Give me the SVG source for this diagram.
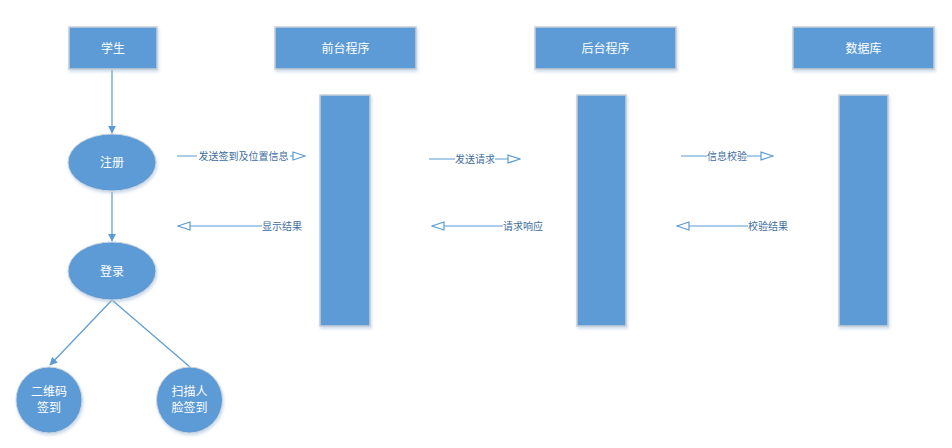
<svg xmlns="http://www.w3.org/2000/svg" width="952" height="448" viewBox="0 0 952 448">
<style>
.box{fill:#5B9BD5;stroke:#C9CED6;stroke-width:1.5}
.shape{fill:#5B9BD5;stroke:#D0D5DC;stroke-width:1}
.t{font-family:"Noto Sans CJK SC","Liberation Sans",sans-serif;font-size:12px;fill:#FFFFFF;text-anchor:middle}
.lbl{font-family:"Noto Sans CJK SC","Liberation Sans",sans-serif;font-size:10px;fill:#3E6E9E;text-anchor:middle}
.ln{stroke:#5B9BD5;stroke-width:1.2;fill:none}
.bg{fill:#FFFFFF}
</style>
<defs>
<filter id="sh" x="-20%" y="-20%" width="140%" height="140%">
<feDropShadow dx="1" dy="2" stdDeviation="1.5" flood-color="#9BB8D8" flood-opacity="0.5"/>
</filter>
<marker id="fa" viewBox="0 0 10 10" refX="9" refY="5" markerWidth="8" markerHeight="8" orient="auto" markerUnits="userSpaceOnUse">
<path d="M0,0 L10,5 L0,10 z" fill="#5B9BD5"/>
</marker>
<marker id="oa" viewBox="0 0 14 10" refX="13" refY="5" markerWidth="14" markerHeight="10" orient="auto-start-reverse" markerUnits="userSpaceOnUse">
<path d="M1,1 L13,5 L1,9 z" fill="#FFFFFF" stroke="#5B9BD5" stroke-width="1.2"/>
</marker>
</defs>

<g id="connectors">
<line class="ln" x1="112" y1="70" x2="112" y2="133" marker-end="url(#fa)"/>
<line class="ln" x1="112" y1="192" x2="112" y2="241" marker-end="url(#fa)"/>
<line class="ln" x1="112" y1="300" x2="50" y2="365" marker-end="url(#fa)"/>
<line class="ln" x1="112" y1="300" x2="190" y2="367"/>

<g id="msg1">
<line class="ln" x1="177" y1="156" x2="305" y2="156" marker-end="url(#oa)"/>
<rect class="bg" x="197" y="149" width="93" height="14"/>
<text class="lbl" x="243.5" y="159.5">发送签到及位置信息</text>
</g>
<g id="msg2">
<line class="ln" x1="178" y1="226" x2="262" y2="226" marker-start="url(#oa)"/>
<text class="lbl" x="282" y="229.5">显示结果</text>
</g>
<g id="msg3">
<line class="ln" x1="429" y1="159" x2="520" y2="159" marker-end="url(#oa)"/>
<rect class="bg" x="455" y="152" width="40" height="14"/>
<text class="lbl" x="475" y="162.5">发送请求</text>
</g>
<g id="msg4">
<line class="ln" x1="432" y1="226" x2="503" y2="226" marker-start="url(#oa)"/>
<text class="lbl" x="523" y="229.5">请求响应</text>
</g>
<g id="msg5">
<line class="ln" x1="681" y1="156" x2="773" y2="156" marker-end="url(#oa)"/>
<rect class="bg" x="707" y="149" width="40" height="14"/>
<text class="lbl" x="727" y="159.5">信息校验</text>
</g>
<g id="msg6">
<line class="ln" x1="677" y1="226" x2="748" y2="226" marker-start="url(#oa)"/>
<text class="lbl" x="768" y="229.5">校验结果</text>
</g>
</g>

<g id="student">
<rect class="box" x="69" y="27" width="88" height="42" filter="url(#sh)"/>
<text class="t" x="113" y="52.5">学生</text>
</g>
<g id="frontend">
<rect class="box" x="275" y="27" width="141" height="42" filter="url(#sh)"/>
<text class="t" x="345.5" y="52.5">前台程序</text>
</g>
<g id="backend">
<rect class="box" x="535" y="27" width="141" height="42" filter="url(#sh)"/>
<text class="t" x="605.5" y="52.5">后台程序</text>
</g>
<g id="database">
<rect class="box" x="793" y="27" width="141" height="42" filter="url(#sh)"/>
<text class="t" x="863.5" y="52.5">数据库</text>
</g>

<g id="frontend-bar"><rect class="box" x="320" y="95" width="50" height="231" filter="url(#sh)"/></g>
<g id="backend-bar"><rect class="box" x="577" y="95" width="49" height="231" filter="url(#sh)"/></g>
<g id="database-bar"><rect class="box" x="839" y="95" width="49" height="231" filter="url(#sh)"/></g>

<g id="register">
<ellipse class="shape" cx="112" cy="162.5" rx="44" ry="28.5" filter="url(#sh)"/>
<text class="t" x="112" y="167">注册</text>
</g>
<g id="login">
<ellipse class="shape" cx="112" cy="271" rx="44" ry="29" filter="url(#sh)"/>
<text class="t" x="112" y="275.5">登录</text>
</g>
<g id="qrcode">
<circle class="shape" cx="49" cy="400" r="33" filter="url(#sh)"/>
<text class="t" x="49" y="396">二维码</text>
<text class="t" x="49" y="412">签到</text>
</g>
<g id="face">
<circle class="shape" cx="189.5" cy="400" r="33" filter="url(#sh)"/>
<text class="t" x="189.5" y="396">扫描人</text>
<text class="t" x="189.5" y="412">脸签到</text>
</g>
</svg>
